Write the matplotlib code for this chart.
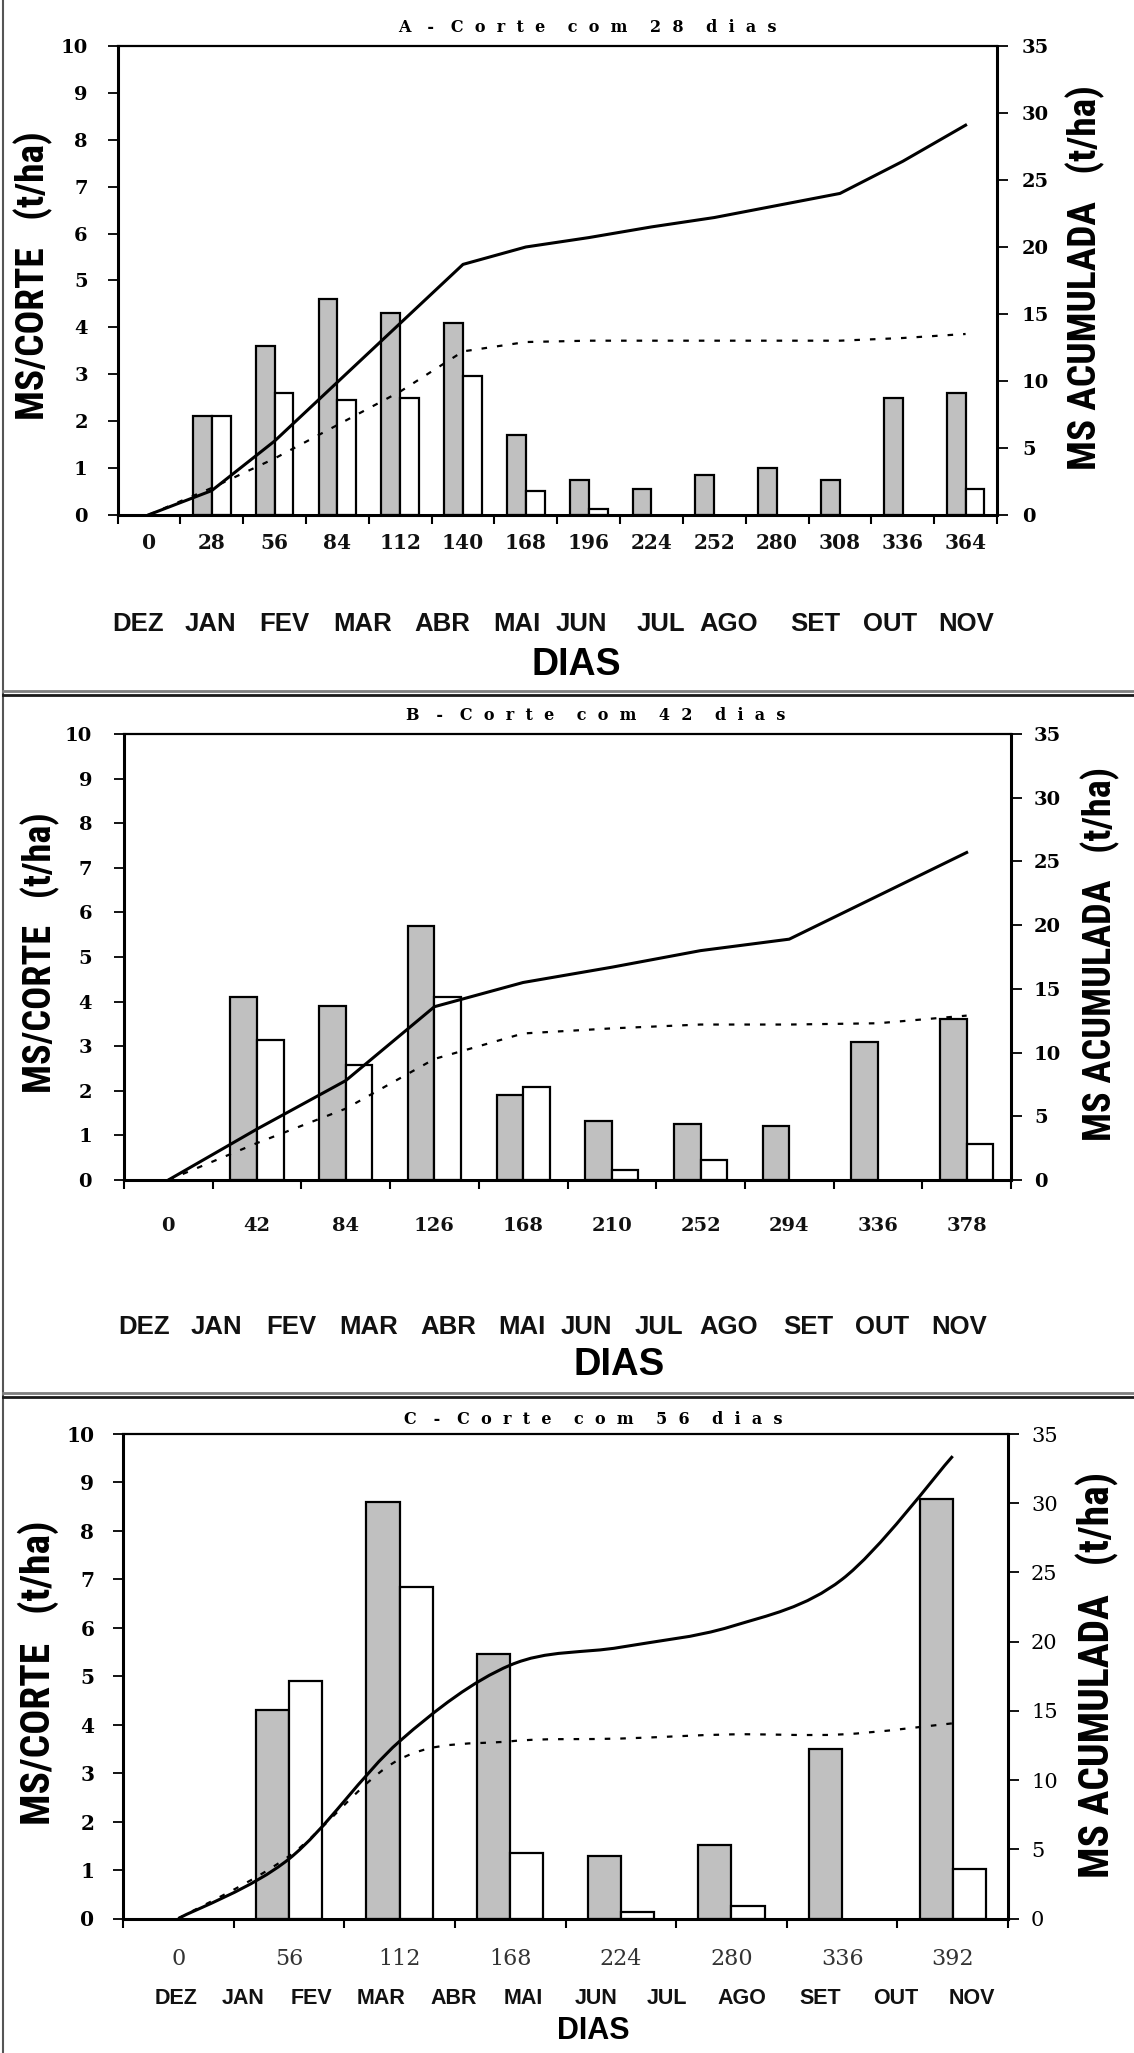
import matplotlib
matplotlib.use('Agg')
import matplotlib.pyplot as plt
from matplotlib.path import Path
from matplotlib.patches import PathPatch
from matplotlib.lines import Line2D
from matplotlib import font_manager
import numpy as np

# ---------------- DATA ----------------
days_a = [0, 28, 56, 84, 112, 140, 168, 196, 224, 252, 280, 308, 336, 364]
grey_a = [0, 2.1, 3.6, 4.6, 4.3, 4.1, 1.7, 0.75, 0.55, 0.85, 1.0, 0.75, 2.5, 2.6]
white_a = [0, 2.1, 2.6, 2.45, 2.5, 2.95, 0.5, 0.12, 0, 0, 0, 0, 0, 0.55]
cum_grey_a = [0, 1.8, 5.5, 9.9, 14.3, 18.7, 20.0, 20.7, 21.5, 22.2, 23.1, 24.0, 26.4, 29.1]
cum_white_a = [0, 2.0, 4.2, 6.7, 9.2, 12.2, 12.9, 13.0, 13.0, 13.0, 13.0, 13.0, 13.2, 13.5]

days_b = [0, 42, 84, 126, 168, 210, 252, 294, 336, 378]
grey_b = [0, 4.1, 3.9, 5.7, 1.9, 1.32, 1.25, 1.21, 3.1, 3.6]
white_b = [0, 3.13, 2.57, 4.1, 2.08, 0.23, 0.45, 0, 0, 0.8]
cum_grey_b = [0, 4.0, 7.8, 13.6, 15.5, 16.7, 18.0, 18.9, 22.3, 25.7]
cum_white_b = [0, 2.9, 5.6, 9.5, 11.5, 11.9, 12.2, 12.2, 12.3, 12.9]

days_c = [0, 56, 112, 168, 224, 280, 336, 392]
grey_c = [0, 4.3, 8.6, 5.45, 1.28, 1.52, 3.5, 8.66]
white_c = [0, 4.9, 6.85, 1.35, 0.13, 0.26, 0, 1.02]
cum_grey_c = [0, 4.3, 12.8, 18.3, 19.6, 21.1, 24.5, 33.4]
cum_white_c = [0, 4.5, 11.5, 12.8, 13.0, 13.3, 13.3, 14.1]

months = ['DEZ', 'JAN', 'FEV', 'MAR', 'ABR', 'MAI', 'JUN', 'JUL', 'AGO', 'SET', 'OUT', 'NOV']
titles = ['A   -   C  o  r  t  e    c  o  m    2  8    d  i  a  s',
          'B   -   C  o  r  t  e    c  o  m    4  2    d  i  a  s',
          'C   -   C  o  r  t  e    c  o  m    5  6    d  i  a  s']
ylabel_left = 'MS/CORTE   (t/ha)'
ylabel_right = 'MS ACUMULADA   (t/ha)'
xlabel = 'DIAS'

# ---------------- LAYOUT (pixels) ----------------
W, H = 1134, 2053
fig = plt.figure(figsize=(W / 100, H / 100), dpi=100)

def fx(x):
    return x / W

def fy(y):
    return 1 - y / H

panels = [
    dict(days=days_a, grey=grey_a, white=white_a, cg=cum_grey_a, cw=cum_white_a,
         rect=(117.5, 997, 46.2, 514.7), smooth=False,
         month_x=[138, 210, 284, 363, 442, 517, 581, 661, 729, 815, 890, 966], month_y=624, month_fs=18.5,
         dias=(576, 665, 27), title=(587, 28), yl=(33, 276, 289), yr=(1085, 278, 385),
         xpad=13.0, xfs=14.5, xw='bold', ylpad=14.4, yrpad=10, ylfs=14, yrfs=14, yrw='bold'),
    dict(days=days_b, grey=grey_b, white=white_b, cg=cum_grey_b, cw=cum_white_b,
         rect=(124, 1011, 734, 1180), smooth=False,
         month_x=[144, 216, 291, 369, 448, 522, 586, 659, 729, 808, 882, 959], month_y=1327, month_fs=18.5,
         dias=(619, 1365, 27.5), title=(596, 716), yl=(40, 953, 280), yr=(1100, 954, 374),
         xpad=26.5, xfs=14, xw='bold', ylpad=16, yrpad=8.6, ylfs=14, yrfs=14, yrw='bold'),
    dict(days=days_c, grey=grey_c, white=white_c, cg=cum_grey_c, cw=cum_white_c,
         rect=(123, 1008, 1434, 1918.5), smooth=True,
         month_x=[176, 243, 311, 381, 454, 523, 596, 667, 742, 820, 896, 972], month_y=1998, month_fs=15.5,
         dias=(593, 2031, 22), title=(593, 1420), yl=(38, 1673, 304), yr=(1097, 1675, 406),
         xpad=21.5, xfs=16, xw='normal', ylpad=13.7, yrpad=8.6, ylfs=14.5, yrfs=15, yrw='normal'),
]

serif = ['DejaVu Serif']
sans = ['Liberation Sans', 'DejaVu Sans']

# condensed heavy face for the axis titles, if one is installed
avail = {f.name for f in font_manager.fontManager.ttflist}
narrow_family = None
for cand in ['Liberation Sans Narrow', 'DejaVu Sans Condensed', 'Roboto Condensed', 'Open Sans Condensed']:
    if cand in avail:
        narrow_family = cand
        break
if narrow_family is None:
    narrow_kw = dict(fontfamily=['DejaVu Sans'], fontstretch='condensed')
else:
    narrow_kw = dict(fontfamily=[narrow_family, 'DejaVu Sans'])


def smooth_patch(xs, ys, ax, **kw):
    pts = np.column_stack([xs, ys]).astype(float)
    n = len(pts)
    verts = [pts[0]]
    codes = [Path.MOVETO]
    for i in range(n - 1):
        p0 = pts[i - 1] if i > 0 else pts[i]
        p1 = pts[i]
        p2 = pts[i + 1]
        p3 = pts[i + 2] if i + 2 < n else pts[i + 1]
        c1 = p1 + (p2 - p0) / 6.0
        c2 = p2 - (p3 - p1) / 6.0
        verts += [c1, c2, p2]
        codes += [Path.CURVE4] * 3
    patch = PathPatch(Path(verts, codes), fill=False, transform=ax.transData, **kw)
    ax.add_patch(patch)


ylabel_texts = []
bw = 0.3
dash = (0, (2.5, 4.5))
for k, p in enumerate(panels):
    l, r, t, b = p['rect']
    ax = fig.add_axes([fx(l), fy(b), (r - l) / W, (b - t) / H])
    n = len(p['days'])
    x = np.arange(n)
    g = np.array(p['grey'], float)
    w = np.array(p['white'], float)
    mg = g > 0
    mw = w > 0
    ax.bar(x[mg] - bw / 2, g[mg], width=bw, color='#c0c0c0', edgecolor='black', linewidth=1.6, zorder=2)
    ax.bar(x[mw] + bw / 2, w[mw], width=bw, color='white', edgecolor='black', linewidth=1.6, zorder=2)
    ax.set_xlim(-0.5, n - 0.5)
    ax.set_ylim(0, 10)
    ax.set_yticks(range(0, 11))
    ax.set_yticklabels([str(v) for v in range(0, 11)], fontfamily=serif, fontweight='bold', fontsize=p['ylfs'])
    ax.set_xticks(x)
    ax.set_xticklabels([str(d) for d in p['days']], fontfamily=serif, fontweight=p['xw'],
                       fontsize=p['xfs'], color='#111111' if p['xw'] == 'bold' else '#333333')
    ax.set_xticks(np.arange(n + 1) - 0.5, minor=True)
    ax.tick_params(axis='x', which='major', length=0, pad=p['xpad'])
    ax.tick_params(axis='x', which='minor', length=6.5, width=1.5, direction='out')
    ax.tick_params(axis='y', which='major', length=7, width=1.3, direction='out', pad=p['ylpad'])
    for s in ['left', 'bottom']:
        ax.spines[s].set_linewidth(2.2)
    ax.spines['top'].set_linewidth(1.6)
    ax.spines['right'].set_visible(False)

    ax2 = ax.twinx()
    ax2.set_ylim(0, 35)
    ax2.set_yticks(range(0, 36, 5))
    ax2.set_yticklabels([str(v) for v in range(0, 36, 5)], fontfamily=serif, fontweight=p['yrw'],
                        fontsize=p['yrfs'])
    ax2.tick_params(axis='y', which='major', length=8, width=1.3, direction='out', pad=p['yrpad'])
    for s in ['left', 'bottom', 'top']:
        ax2.spines[s].set_visible(False)
    ax2.spines['right'].set_linewidth(2.2)

    if p['smooth']:
        smooth_patch(x, p['cg'], ax2, linewidth=2.2, edgecolor='black', zorder=3)
        smooth_patch(x, p['cw'], ax2, linewidth=1.6, edgecolor='black', linestyle=dash, zorder=3)
    else:
        ax2.plot(x, p['cg'], color='black', linewidth=2.2, zorder=3)
        ax2.plot(x, p['cw'], color='black', linewidth=1.6, linestyle=dash, zorder=3)

    # month row
    for m, mx in zip(months, p['month_x']):
        fig.text(fx(mx), fy(p['month_y']), m, ha='center', va='center', fontfamily=sans,
                 fontweight='bold', fontsize=p['month_fs'], color='#111111')
    dx, dy, dfs = p['dias']
    fig.text(fx(dx), fy(dy), xlabel, ha='center', va='center', fontfamily=sans, fontweight='bold',
             fontsize=dfs, color='black')
    tx, ty = p['title']
    fig.text(fx(tx), fy(ty), titles[k], ha='center', va='center', fontfamily=serif, fontweight='bold',
             fontsize=11.5, color='black')
    lx, ly, llen = p['yl']
    tl = fig.text(fx(lx), fy(ly), ylabel_left, ha='center', va='center', rotation=90,
                  fontweight='bold', fontsize=25, color='black', **narrow_kw)
    rx, ry, rlen = p['yr']
    tr = fig.text(fx(rx), fy(ry), ylabel_right, ha='center', va='center', rotation=90,
                  fontweight='bold', fontsize=25, color='black', **narrow_kw)
    ylabel_texts += [(tl, llen), (tr, rlen)]

# fit the axis titles to the lengths measured on the reference
renderer = fig.canvas.get_renderer()
for txt, target in ylabel_texts:
    bb = txt.get_window_extent(renderer)
    txt.set_fontsize(txt.get_fontsize() * target / bb.height)

# panel frame lines
fig.add_artist(Line2D([fx(2.5), fx(2.5)], [0, 1], color='#555555', linewidth=1.5))
for yg, yd in [(691.3, 695.3), (1393, 1397)]:
    fig.add_artist(Line2D([fx(2.5), 1], [fy(yg), fy(yg)], color='#7f7f7f', linewidth=2.0))
    fig.add_artist(Line2D([fx(2.5), 1], [fy(yd), fy(yd)], color='#1a1a1a', linewidth=2.0))

fig.savefig('out.png', dpi=100, facecolor='white')
